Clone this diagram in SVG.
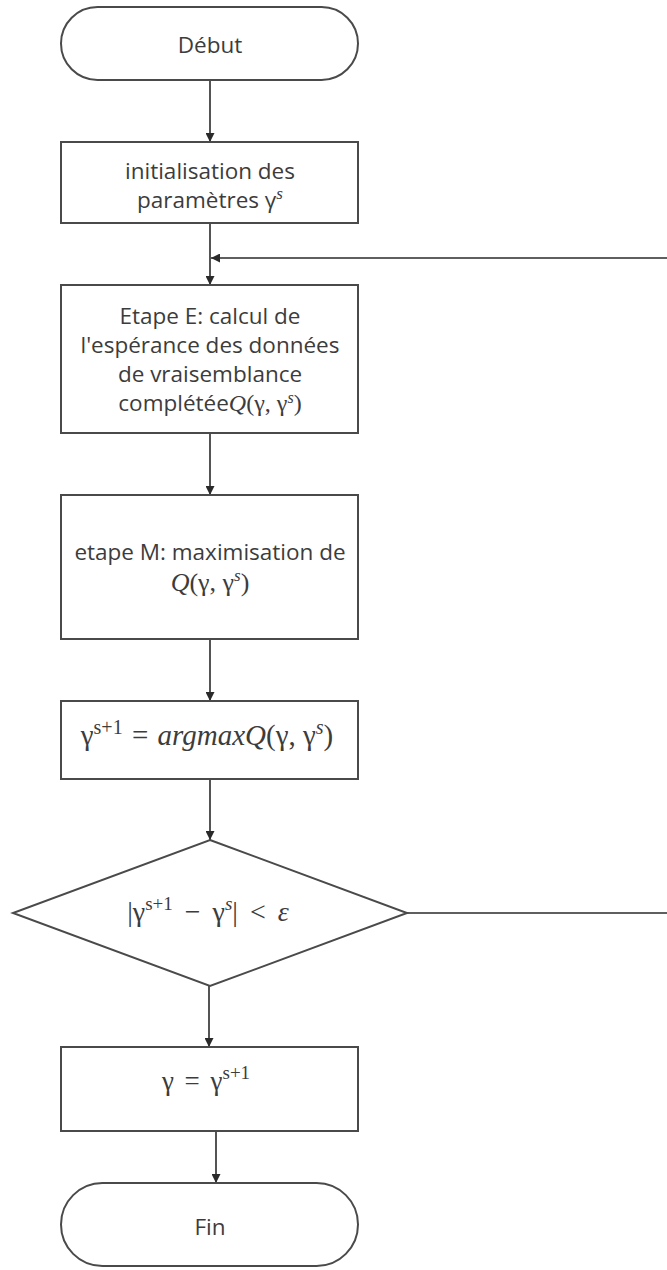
<svg xmlns="http://www.w3.org/2000/svg" width="667" height="1270" viewBox="0 0 667 1270">
  <style>
    .shape { fill: #ffffff; stroke: #4a4a4a; stroke-width: 2; }
    .link { fill: none; stroke: #2a2a2a; stroke-width: 1.6; }
    .txt { font-family: "Open Sans", "Liberation Sans", sans-serif; font-size: 22.5px; fill: #3c3c3c; text-anchor: middle; }
    .math { font-family: "Liberation Serif", "DejaVu Serif", serif; font-size: 26px; fill: #3c3c3c; }
    .it { font-style: italic; }
    .sup { font-size: 17px; }
    .m24 { font-size: 24px; }
    .s16 { font-size: 16px; }
    .m28 { font-size: 28px; }
    .s19 { font-size: 19px; }
    .big { font-size: 29px; }
    .bigsup { font-size: 20px; }
  </style>
  <defs>
    <marker id="arrow" viewBox="0 0 10 10" refX="10" refY="5" markerWidth="9" markerHeight="9" markerUnits="userSpaceOnUse" orient="auto">
      <path d="M0,0 L10,5 L0,10 z" fill="#2a2a2a"/>
    </marker>
  </defs>

  <g id="connectors">
    <line class="link" x1="210" y1="80" x2="210" y2="142" marker-end="url(#arrow)"/>
    <line class="link" x1="210" y1="223" x2="210" y2="285" marker-end="url(#arrow)"/>
    <line class="link" x1="667" y1="258" x2="211" y2="258" marker-end="url(#arrow)"/>
    <line class="link" x1="210" y1="433" x2="210" y2="495" marker-end="url(#arrow)"/>
    <line class="link" x1="210" y1="639" x2="210" y2="701" marker-end="url(#arrow)"/>
    <line class="link" x1="210" y1="779" x2="210" y2="840" marker-end="url(#arrow)"/>
    <line class="link" x1="407" y1="913" x2="667" y2="913"/>
    <line class="link" x1="209" y1="986" x2="209" y2="1047" marker-end="url(#arrow)"/>
    <line class="link" x1="216" y1="1131" x2="216" y2="1183" marker-end="url(#arrow)"/>
  </g>

  <g id="start">
    <rect class="shape" x="61" y="7" width="297" height="73" rx="36.5" ry="36.5"/>
    <text class="txt" x="210" y="53">Début</text>
  </g>

  <g id="init">
    <rect class="shape" x="61" y="142" width="297" height="81"/>
    <text class="txt" x="210" y="179">initialisation des</text>
    <text class="txt" x="210" y="208">paramètres γ<tspan class="math it sup" dy="-9">s</tspan></text>
  </g>

  <g id="step-e">
    <rect class="shape" x="61" y="285" width="297" height="148"/>
    <text class="txt" x="210" y="324">Etape E: calcul de</text>
    <text class="txt" x="210" y="353">l'espérance des données</text>
    <text class="txt" x="210" y="382">de vraisemblance</text>
    <text class="txt" x="210" y="411">complétée<tspan class="math m24 it">Q</tspan><tspan class="math m24">(γ, γ</tspan><tspan class="math it s16" dy="-8">s</tspan><tspan class="math m24" dy="8">)</tspan></text>
  </g>

  <g id="step-m">
    <rect class="shape" x="61" y="495" width="297" height="144"/>
    <text class="txt" x="210" y="560">etape M: maximisation de</text>
    <text class="txt" x="210" y="591"><tspan class="math it">Q</tspan><tspan class="math">(γ, γ</tspan><tspan class="math it sup" dy="-10">s</tspan><tspan class="math" dy="10">)</tspan></text>
  </g>

  <g id="update">
    <rect class="shape" x="61" y="701" width="297" height="78"/>
    <text class="txt" x="207" y="745"><tspan class="math big">γ</tspan><tspan class="math bigsup" dy="-11">s+1</tspan><tspan class="math big" dx="2" dy="11"> = </tspan><tspan class="math big it" dx="2">argmaxQ</tspan><tspan class="math big">(γ, γ</tspan><tspan class="math it bigsup" dy="-11">s</tspan><tspan class="math big" dy="11">)</tspan></text>
  </g>

  <g id="test">
    <polygon class="shape" points="210,840 407,913 210,986 13,913"/>
    <text class="txt" x="208" y="921"><tspan class="math m28">|γ</tspan><tspan class="math s19" dy="-11">s+1</tspan><tspan class="math m28" dx="5" dy="11"> − </tspan><tspan class="math m28" dx="5">γ</tspan><tspan class="math it s19" dy="-11">s</tspan><tspan class="math m28" dy="11">|</tspan><tspan class="math m28" dx="5"> &lt; </tspan><tspan class="math m28 it" dx="5">ε</tspan></text>
  </g>

  <g id="result">
    <rect class="shape" x="61" y="1047" width="297" height="84"/>
    <text class="txt" x="206" y="1090"><tspan class="math" style="font-size:27px">γ</tspan><tspan class="math" style="font-size:27px" dx="4"> = </tspan><tspan class="math" style="font-size:27px" dx="4">γ</tspan><tspan class="math s19" dy="-11">s+1</tspan></text>
  </g>

  <g id="end">
    <rect class="shape" x="61" y="1183" width="297" height="83" rx="41.5" ry="41.5"/>
    <text class="txt" x="210" y="1235">Fin</text>
  </g>
</svg>
